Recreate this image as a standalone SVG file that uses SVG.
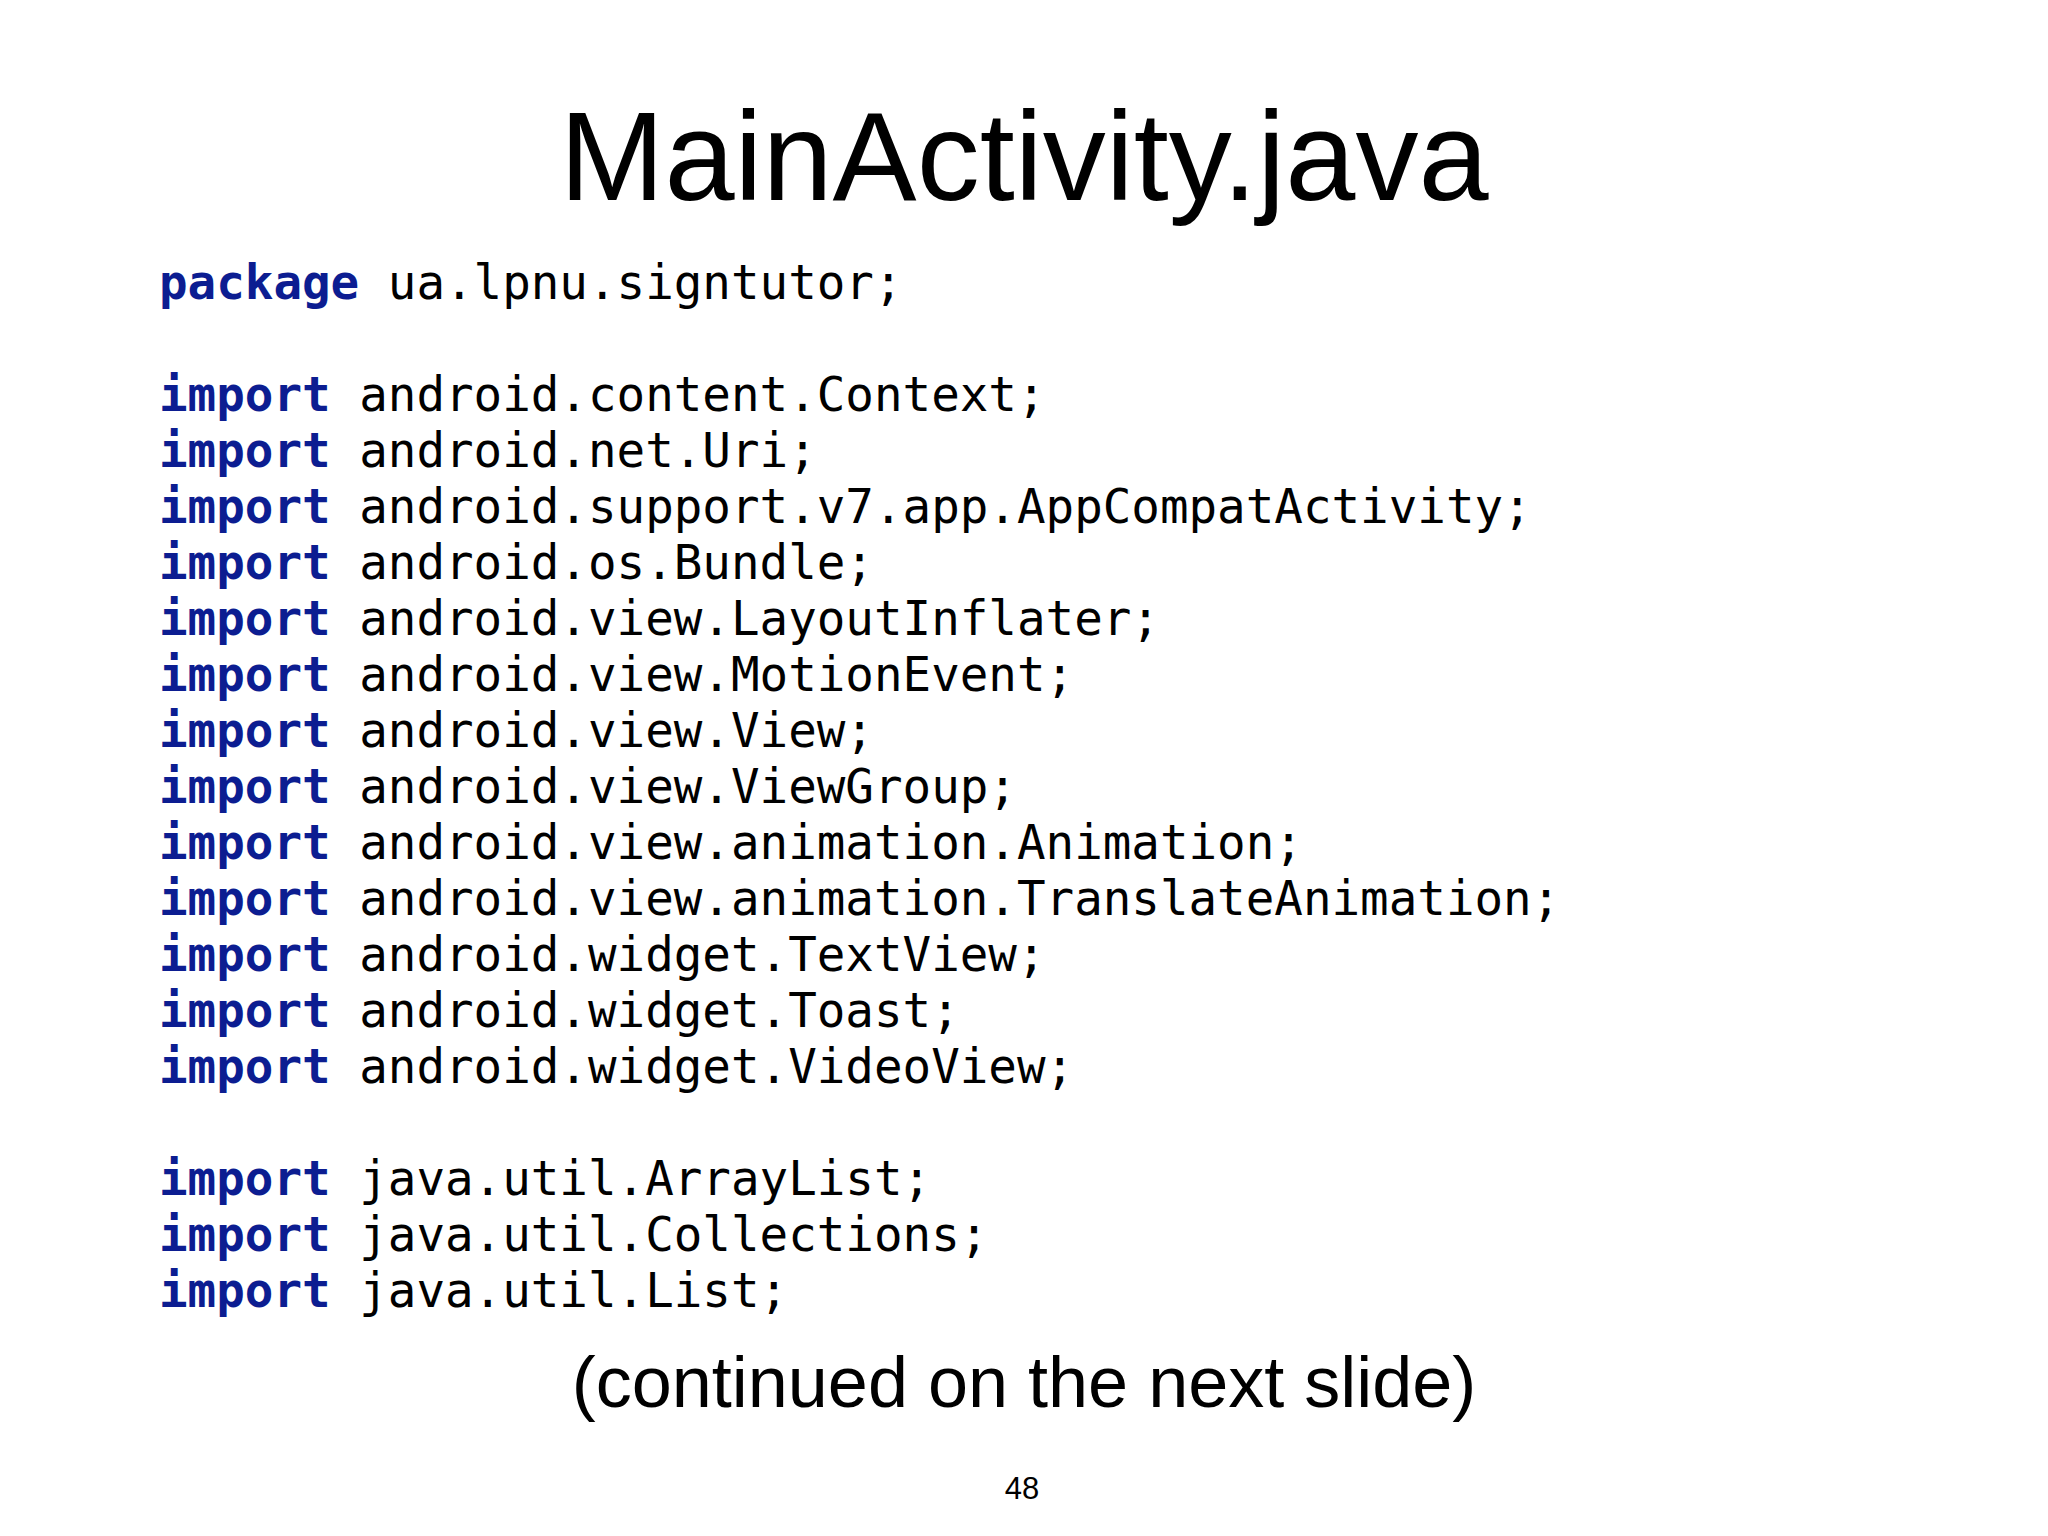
<svg xmlns="http://www.w3.org/2000/svg" width="2048" height="1536" viewBox="0 0 2048 1536">
<style>
.code{font-family:"DejaVu Sans Mono","Liberation Mono",monospace;font-size:47.5px;fill:#000}
.kw{font-weight:bold;fill:#0c1d91}
.h{font-family:"Helvetica Neue","Liberation Sans",Arial,sans-serif;fill:#000;text-anchor:middle}
</style>
<rect width="2048" height="1536" fill="#fff"/>
<text class="h" x="1024" y="200" font-size="126">MainActivity.java</text>
<g id="code" class="code" xml:space="preserve">
<text x="159" y="299"><tspan class="kw">package</tspan> ua.lpnu.signtutor;</text>
<text x="159" y="411"><tspan class="kw">import</tspan> android.content.Context;</text>
<text x="159" y="467"><tspan class="kw">import</tspan> android.net.Uri;</text>
<text x="159" y="523"><tspan class="kw">import</tspan> android.support.v7.app.AppCompatActivity;</text>
<text x="159" y="579"><tspan class="kw">import</tspan> android.os.Bundle;</text>
<text x="159" y="635"><tspan class="kw">import</tspan> android.view.LayoutInflater;</text>
<text x="159" y="691"><tspan class="kw">import</tspan> android.view.MotionEvent;</text>
<text x="159" y="747"><tspan class="kw">import</tspan> android.view.View;</text>
<text x="159" y="803"><tspan class="kw">import</tspan> android.view.ViewGroup;</text>
<text x="159" y="859"><tspan class="kw">import</tspan> android.view.animation.Animation;</text>
<text x="159" y="915"><tspan class="kw">import</tspan> android.view.animation.TranslateAnimation;</text>
<text x="159" y="971"><tspan class="kw">import</tspan> android.widget.TextView;</text>
<text x="159" y="1027"><tspan class="kw">import</tspan> android.widget.Toast;</text>
<text x="159" y="1083"><tspan class="kw">import</tspan> android.widget.VideoView;</text>
<text x="159" y="1195"><tspan class="kw">import</tspan> java.util.ArrayList;</text>
<text x="159" y="1251"><tspan class="kw">import</tspan> java.util.Collections;</text>
<text x="159" y="1307"><tspan class="kw">import</tspan> java.util.List;</text>
</g>
<text class="h" x="1024" y="1407" font-size="72">(continued on the next slide)</text>
<text class="h" x="1022" y="1499" font-size="31" fill="#444">48</text>
</svg>
